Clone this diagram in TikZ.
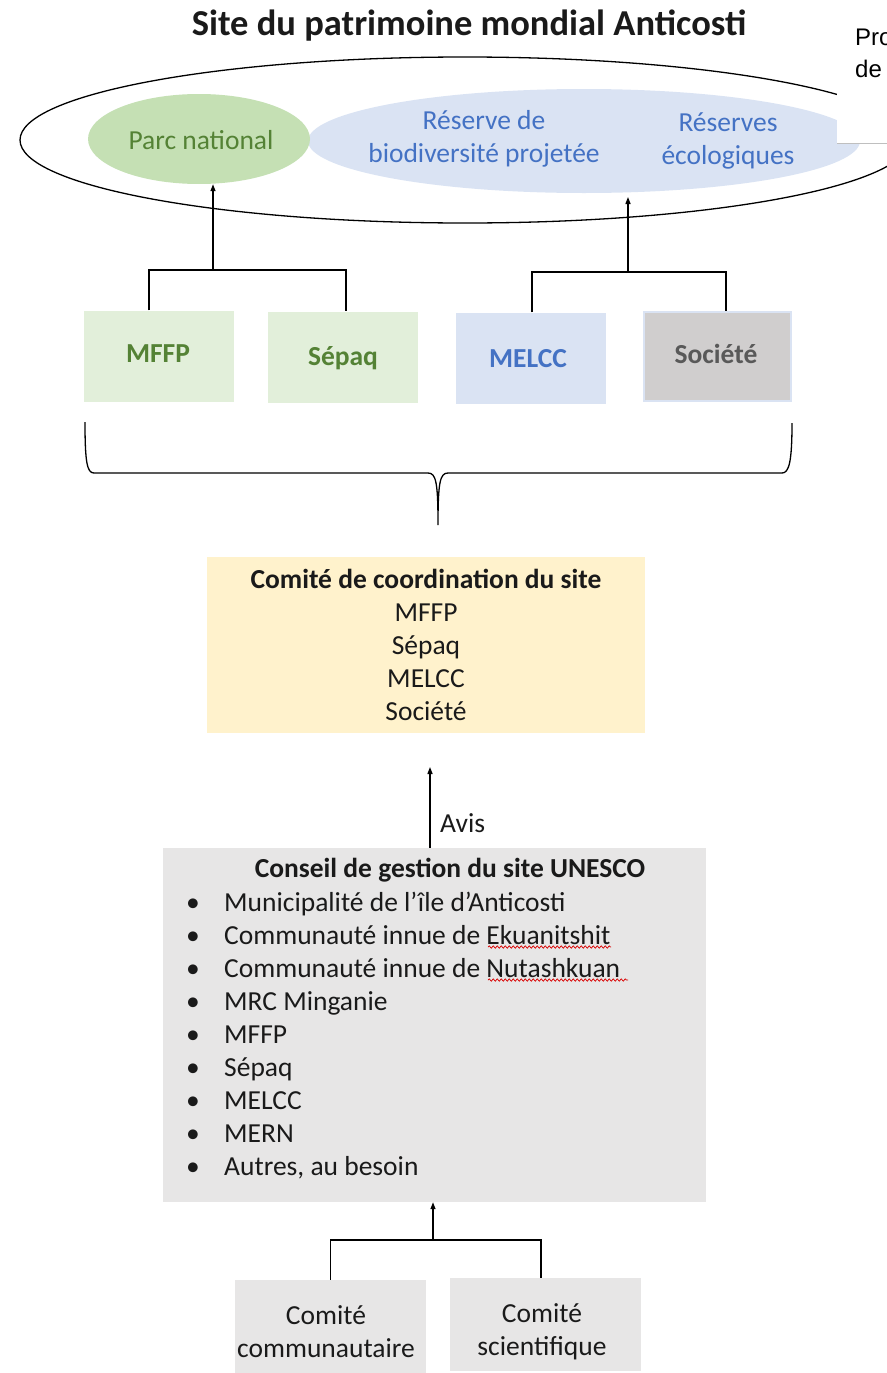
\documentclass[tikz,border=0pt]{standalone}
\usepackage{fontspec}
\setmainfont{Carlito}
\newfontfamily\arialf{Liberation Sans}
\usetikzlibrary{shapes.geometric,arrows.meta,decorations.pathmorphing,calc}
\definecolor{pgreen}{HTML}{C5E0B4}
\definecolor{lgreen}{HTML}{E2EFDA}
\definecolor{dgreen}{HTML}{548235}
\definecolor{lblue}{HTML}{DAE3F3}
\definecolor{dblue}{HTML}{4472C4}
\definecolor{lgrey}{HTML}{D0CECE}
\definecolor{dgrey}{HTML}{595959}
\definecolor{lyellow}{HTML}{FFF2CC}
\definecolor{boxgrey}{HTML}{E7E6E6}
\definecolor{txt}{HTML}{1A1A1A}
\newcommand\myfs{\fontsize{27.5}{33}\selectfont}
\begin{document}
\begin{tikzpicture}[x=1pt,y=-1pt,
  ln/.style={line width=1.3pt,black},
  arr/.style={ln,-{Triangle[length=7pt,width=5pt]}},
  topbox/.style={rectangle,inner sep=0pt,minimum width=150pt,minimum height=91pt},
  lbl/.style={inner sep=0pt,anchor=base,font=\myfs,text=txt},
  bl/.style={inner sep=0pt,anchor=base,font=\myfs\bfseries},
  wavy/.style={red!85!black,line width=0.7pt,decorate,decoration={snake,amplitude=1.2pt,segment length=4pt}}]
\useasboundingbox (0,0) rectangle (886,1373);
% title
\node[inner sep=0pt,anchor=base,font=\fontsize{36.5}{40}\selectfont\bfseries,text=txt] (title) at (469,35) {Site du patrimoine mondial Anticosti};
% ellipses
\node[ellipse,draw,line width=1.3pt,minimum width=890pt,minimum height=166pt,inner sep=0pt] (site) at (465,140) {};
\node[ellipse,fill=lblue,minimum width=552pt,minimum height=104pt,inner sep=0pt] (reserve) at (584,141) {};
\node[ellipse,fill=pgreen,minimum width=222pt,minimum height=90pt,inner sep=0pt] (parc) at (199,139) {};
\node[lbl,text=dgreen] (parct) at (201,149) {Parc national};
\node[lbl,text=dblue] (rdt1) at (484,129) {Réserve de};
\node[lbl,text=dblue] (rdt2) at (484,162) {biodiversité projetée};
\node[lbl,text=dblue] (ret1) at (728,131) {Réserves};
\node[lbl,text=dblue] (ret2) at (728,164) {écologiques};
% partial box at right
\node[rectangle,fill=white,minimum width=60pt,minimum height=133pt,inner sep=0pt,anchor=north west] (probox) at (837,10) {};
\draw[black!25,line width=0.8pt] (probox.south west) -- (probox.south east);
\node[inner sep=0pt,anchor=base west,font=\arialf\fontsize{24}{32}\selectfont] (pro1) at (855,45) {Pro};
\node[inner sep=0pt,anchor=base west,font=\arialf\fontsize{24}{32}\selectfont] (pro2) at (855,77) {de};
% top boxes
\node[topbox,fill=lgreen] (mffp) at (159,356) {};
\node[topbox,fill=lgreen] (sepaq) at (343,357) {};
\node[topbox,fill=lblue] (melcc) at (531,358) {};
\node[topbox,fill=lgrey,draw=lblue,line width=1.5pt,minimum width=147pt,minimum height=89pt] (societe) at (717.5,356.5) {};
\node[bl,text=dgreen] (mffpt) at (158,362) {MFFP};
\node[bl,text=dgreen] (sepaqt) at (343,365) {Sépaq};
\node[bl,text=dblue] (melcct) at (528,367) {MELCC};
\node[bl,text=dgrey] (societet) at (716,363) {Société};
% brackets and arrows to ellipses
\coordinate (b1) at (213,270);
\coordinate (b2) at (628,272);
\draw[ln] ([xshift=-10pt]mffp.north) |- (b1) -| ([xshift=3pt]sepaq.north);
\draw[arr] (b1) -- (b1 |- parc.south);
\draw[ln] ([xshift=1pt]melcc.north) |- (b2) -| ([xshift=8.5pt]societe.north);
\draw[arr] (b2) -- (628,197);
% brace
\coordinate (brl) at (85,422);
\coordinate (brr) at (792,423);
\coordinate (brtip) at (438,525);
\draw[ln] (brl) .. controls (85,462) and (87,473) .. (94,473) -- (428,473)
  .. controls (436,473) and (438,482) .. (brtip)
  .. controls (438,482) and (440,473) .. (448,473) -- (782,473)
  .. controls (789,473) and (792,462) .. (brr);
% comite de coordination
\node[rectangle,fill=lyellow,minimum width=438pt,minimum height=176pt,inner sep=0pt] (coord) at (426,645) {};
\node[bl,text=txt] (c1) at (426,588) {Comité de coordination du site};
\node[lbl] (c2) at (426,621) {MFFP};
\node[lbl] (c3) at (426,654) {Sépaq};
\node[lbl] (c4) at (426,687) {MELCC};
\node[lbl] (c5) at (426,720) {Société};
% conseil
\node[rectangle,fill=boxgrey,minimum width=543pt,minimum height=354pt,inner sep=0pt] (conseil) at (434.5,1025) {};
\coordinate (avtip) at (430,767);
\draw[arr] (conseil.north -| avtip) -- (avtip);
\node[lbl,anchor=base west] (avis) at (440,832) {Avis};
\node[bl,text=txt] (k0) at (450,877) {Conseil de gestion du site UNESCO};
\foreach \t [count=\i] in {Municipalité de l’île d’Anticosti,Communauté innue de Ekuanitshit,Communauté innue de Nutashkuan,MRC Minganie,MFFP,Sépaq,MELCC,MERN,{Autres, au besoin}}{
  \node[lbl] (bul\i) at (193,{911+33*(\i-1)}) {•};
  \node[lbl,anchor=base west] (k\i) at (224,{911+33*(\i-1)}) {\t};
}
\draw[wavy] (488,947) -- (611,947);
\draw[wavy] (488,980) -- (628,980);
% bottom committees
\node[rectangle,fill=boxgrey,minimum width=191pt,minimum height=93pt,inner sep=0pt] (cc) at (330.5,1326.5) {};
\node[rectangle,fill=boxgrey,minimum width=191pt,minimum height=93pt,inner sep=0pt] (cs) at (545.5,1324.5) {};
\node[lbl] (cct1) at (326,1324) {Comité};
\node[lbl] (cct2) at (326,1357) {communautaire};
\node[lbl] (cst1) at (542,1322) {Comité};
\node[lbl] (cst2) at (542,1355) {scientifique};
\coordinate (b3) at (433,1240);
\draw[ln] (cc.north) |- (b3) -| ([xshift=-4.5pt]cs.north);
\draw[arr] (b3) -- (b3 |- conseil.south);
\end{tikzpicture}
\end{document}
